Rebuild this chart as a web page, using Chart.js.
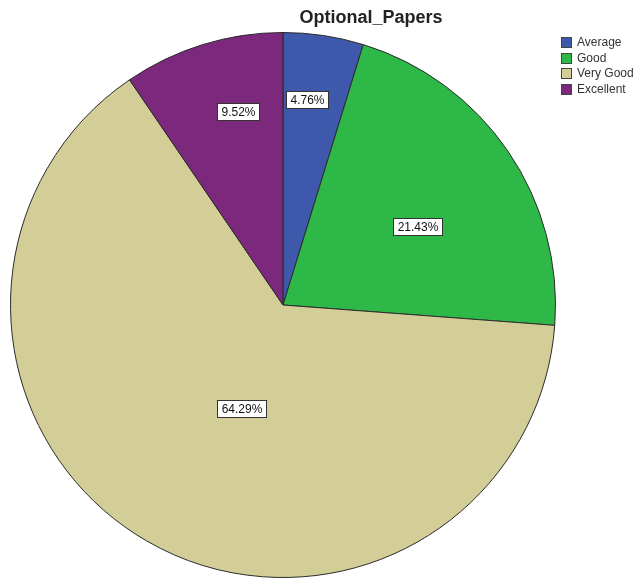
<!DOCTYPE html>
<html>
<head>
<meta charset="utf-8">
<script src="https://cdn.jsdelivr.net/npm/chart.js@4/dist/chart.umd.min.js"></script>
<style>
	html, body { margin: 0; padding: 0; background: #fff; }
	#wrap { width: 641px; height: 580px; }
</style>
</head>
<body>
<div id="wrap"><canvas id="pie" width="641" height="580"></canvas></div>
<script>
	'use strict';

	var chartTitle = 'Optional_Papers';
	var categories = ['Average', 'Good', 'Very Good', 'Excellent'];
	var percents = [4.76, 21.43, 64.29, 9.52];
	var sliceColors = ['#3E58AC', '#2EB848', '#D3CE97', '#7C287D'];

	var fontFamily = '"Liberation Sans", Arial, sans-serif';

	// slice labels in white boxes (SPSS style)
	var sliceLabels = {
		id: 'sliceLabels',
		afterDatasetsDraw: function (chart, args, opts) {
			var ctx = chart.ctx,
				meta = chart.getDatasetMeta(0),
				values = chart.data.datasets[0].data;

			ctx.save();
			ctx.font = '12px ' + fontFamily;
			ctx.textAlign = 'center';
			ctx.textBaseline = 'middle';

			meta.data.forEach(function (arc, i) {
				var mid = (arc.startAngle + arc.endAngle) / 2 + opts.shift[i] * Math.PI / 180,
					r = arc.outerRadius * opts.radius[i],
					x = arc.x + Math.cos(mid) * r,
					y = arc.y + Math.sin(mid) * r,
					text = values[i].toFixed(2) + '%',
					w = Math.round(ctx.measureText(text).width) + 8,
					h = 17,
					bx = Math.round(x - w / 2) + 0.5,
					by = Math.round(y - h / 2) + 0.5;

				ctx.fillStyle = '#fff';
				ctx.fillRect(bx, by, w, h);
				ctx.strokeStyle = '#333';
				ctx.lineWidth = 1;
				ctx.strokeRect(bx, by, w, h);
				ctx.fillStyle = '#111';
				ctx.fillText(text, bx + w / 2, by + h / 2 + 1);
			});
			ctx.restore();
		}
	};

	// title and legend drawn by hand so the pie keeps its place
	var titleLegend = {
		id: 'titleLegend',
		afterDraw: function (chart) {
			var ctx = chart.ctx,
				colors = chart.data.datasets[0].backgroundColor;

			ctx.save();
			ctx.fillStyle = '#222';
			ctx.font = 'bold 18px ' + fontFamily;
			ctx.textAlign = 'center';
			ctx.textBaseline = 'middle';
			ctx.fillText(chartTitle, 371, 18);

			ctx.font = '12px ' + fontFamily;
			ctx.textAlign = 'left';
			chart.data.labels.forEach(function (label, i) {
				var top = 37 + i * 15.7,
					y = Math.round(top);

				ctx.fillStyle = colors[i];
				ctx.fillRect(561, y, 11, 11);
				ctx.strokeStyle = '#444';
				ctx.lineWidth = 1;
				ctx.strokeRect(561.5, y + 0.5, 10, 10);
				ctx.fillStyle = '#333';
				ctx.fillText(label, 577, y + 6);
			});
			ctx.restore();
		}
	};

	var pieChart = new Chart(document.getElementById('pie'), {
		type: 'pie',
		data: {
			labels: categories,
			datasets: [{
				data: percents,
				backgroundColor: sliceColors,
				borderColor: '#2b2b2b',
				borderWidth: 1
			}]
		},
		options: {
			responsive: false,
			animation: false,
			layout: {
				padding: { left: 10, top: 32, right: 85, bottom: 2 }
			},
			plugins: {
				legend: { display: false },
				title: { display: false },
				tooltip: { enabled: false },
				sliceLabels: {
					radius: [0.76, 0.57, 0.41, 0.73],
					shift: [-2, 4, -8, 4]
				}
			}
		},
		plugins: [sliceLabels, titleLegend]
	});
</script>
</body>
</html>
